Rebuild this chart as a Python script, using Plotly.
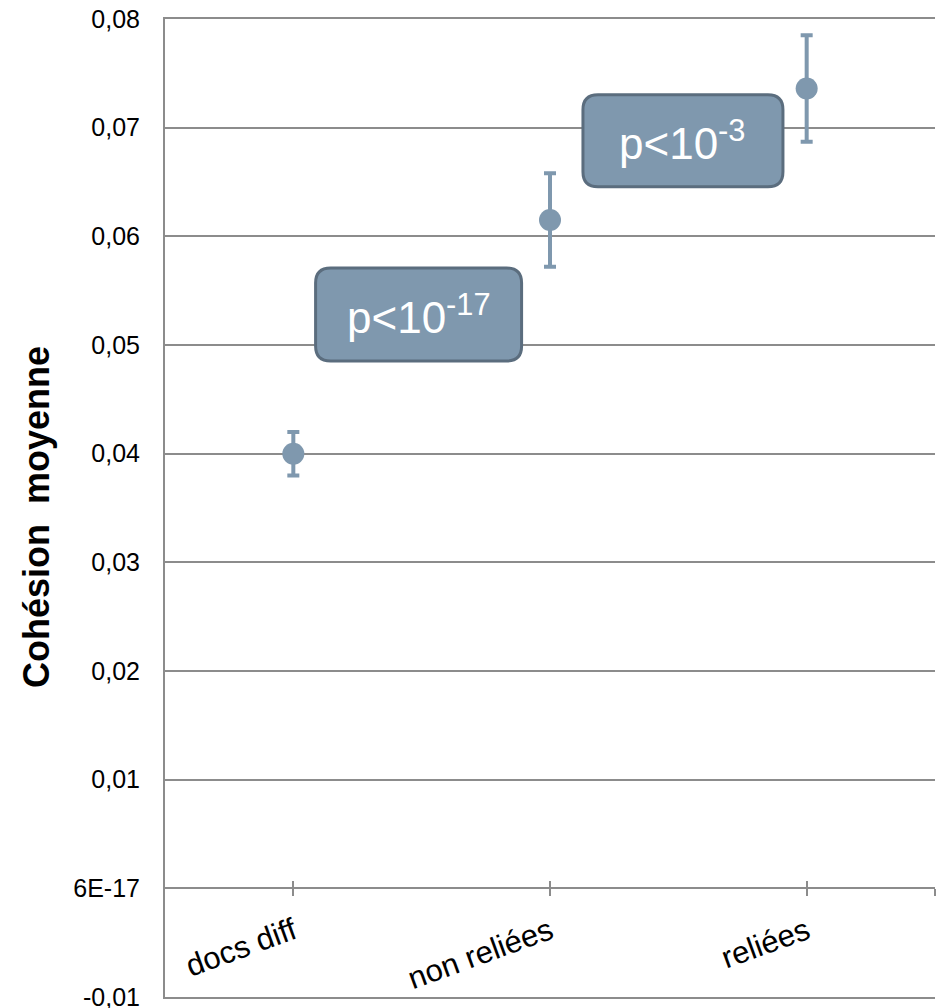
import plotly.graph_objects as go

# Mean cohesion per document-pair group, with the half-width of each error bar
categories = ["docs diff", "non reliées", "reliées"]
mean_cohesion = [0.0400, 0.0615, 0.0736]
error_margin = [0.0020, 0.0043, 0.0049]

y_tick_values = [-0.01, 0.0, 0.01, 0.02, 0.03, 0.04, 0.05, 0.06, 0.07, 0.08]
y_tick_labels = ["-0,01", "6E-17", "0,01", "0,02", "0,03", "0,04", "0,05", "0,06", "0,07", "0,08"]

p_value_labels = ["p<10<sup>-17</sup>", "p<10<sup>-3</sup>"]

# Layout constants
FONT = "Liberation Sans, Arial, sans-serif"
GRID = "#8c8c8c"
POINT = "#7f98ae"
BOX_EDGE = "#5b6d7e"
box_anchor_x = [0.488, 1.518]
box_anchor_y = [0.0528, 0.0688]
box_size = [(206, 93), (200, 92)]

x_pos = list(range(len(categories)))
x_range = [-0.5, len(categories) - 0.5]
x_ticks = x_pos + [x_range[1]]
x_ticktext = categories + [" "]
zero_frac = (0 - y_tick_values[0]) / (y_tick_values[-1] - y_tick_values[0])

fig = go.Figure()
fig.add_trace(go.Scatter(
    x=x_pos, y=mean_cohesion, mode="markers",
    marker=dict(size=22, color=POINT),
    error_y=dict(type="data", array=error_margin, visible=True,
                 color=POINT, thickness=4, width=6),
    showlegend=False, hoverinfo="skip",
))
# empty traces so the crossing tick axes get drawn on the zero line
for ax in ["x2", "x3"]:
    fig.add_trace(go.Scatter(x=[None], y=[None], xaxis=ax, yaxis="y",
                             showlegend=False, hoverinfo="skip"))


def rounded_rect(w, h, r):
    x0, x1, y0, y1 = -w / 2, w / 2, -h / 2, h / 2
    return (f"M{x0 + r},{y0} L{x1 - r},{y0} Q{x1},{y0} {x1},{y0 + r} "
            f"L{x1},{y1 - r} Q{x1},{y1} {x1 - r},{y1} L{x0 + r},{y1} "
            f"Q{x0},{y1} {x0},{y1 - r} L{x0},{y0 + r} Q{x0},{y0} {x0 + r},{y0} Z")


shapes = []
annotations = []
for label, ax_, ay_, (w, h) in zip(p_value_labels, box_anchor_x, box_anchor_y, box_size):
    shapes.append(dict(
        type="path", xref="x", yref="y",
        xsizemode="pixel", ysizemode="pixel", xanchor=ax_, yanchor=ay_,
        path=rounded_rect(w, h, 15),
        fillcolor=POINT, line=dict(color=BOX_EDGE, width=3), layer="above",
    ))
    annotations.append(dict(
        x=ax_, y=ay_, xref="x", yref="y", text=label, showarrow=False,
        font=dict(family=FONT, size=44, color="white"),
        xanchor="center", yanchor="middle",
    ))

annotations.append(dict(
    x=-0.166, y=0.491, xref="paper", yref="paper",
    text="<b>Cohésion\u00a0\u00a0moyenne</b>", textangle=-90, showarrow=False,
    font=dict(family=FONT, size=36, color="black"),
    xanchor="center", yanchor="middle",
))

fig.update_layout(
    width=940, height=1008,
    margin=dict(l=165, r=5, t=19, b=11, autoexpand=False),
    paper_bgcolor="white", plot_bgcolor="white",
    font=dict(family=FONT, color="black"),
    xaxis=dict(
        range=x_range, showgrid=False, zeroline=False,
        showline=True, mirror=True, linecolor=GRID, linewidth=2,
        showticklabels=False, ticks="", automargin=False,
    ),
    xaxis2=dict(
        overlaying="x", anchor="free", position=zero_frac, range=x_range,
        showgrid=False, zeroline=False, showline=True, linecolor=GRID, linewidth=2,
        tickmode="array", tickvals=x_ticks, ticktext=x_ticktext,
        ticks="outside", ticklen=7, tickwidth=2, tickcolor=GRID,
        tickangle=-20, tickfont=dict(family=FONT, size=31, color="black"),
        ticklabelstandoff=5, automargin=False,
    ),
    xaxis3=dict(
        overlaying="x", anchor="free", position=zero_frac, range=x_range,
        showgrid=False, zeroline=False, showline=False,
        tickmode="array", tickvals=x_ticks, showticklabels=False,
        ticks="inside", ticklen=7, tickwidth=2, tickcolor=GRID, automargin=False,
    ),
    yaxis=dict(
        range=[y_tick_values[0], y_tick_values[-1]],
        tickmode="array", tickvals=y_tick_values, ticktext=y_tick_labels,
        showgrid=True, gridcolor=GRID, gridwidth=2, zeroline=False,
        showline=True, linecolor=GRID, linewidth=2, ticks="",
        tickfont=dict(family=FONT, size=25, color="black"),
        ticklabelstandoff=18, ticklabeloverflow="allow", automargin=False,
    ),
    shapes=shapes,
    annotations=annotations,
)

fig.write_html("out.html")
